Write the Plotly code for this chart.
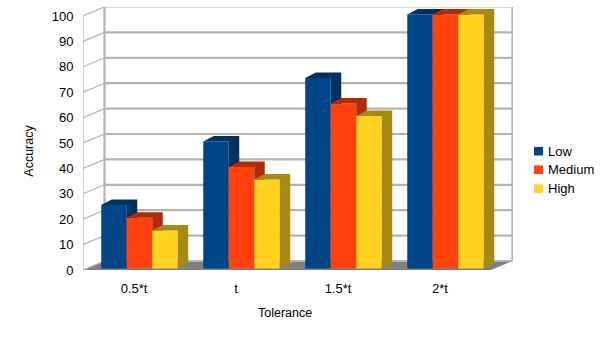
import plotly.graph_objects as go

categories = ["0.5*t", "t", "1.5*t", "2*t"]
low = [25, 50, 75, 100]
medium = [20, 40, 65, 100]
high = [15, 35, 60, 100]
value_ticks = list(range(0, 101, 10))

W, H = 605, 340
L, R, T, B = 83, 513, 7.3, 270.3
PX_X = 102.0      # pixels per category
PX_Y = 2.54       # pixels per accuracy unit
WALL_DX, WALL_DY = 21.5 / PX_X, 9 / PX_Y
BAR_DX, BAR_DY = 10.5 / PX_X, 5.5 / PX_Y
BAR_W = 25.5 / PX_X
BAR_SHIFT, BAR_BASE = 5.5 / PX_X, 0.6
GRID = "#b3b3b3"
FONT = "Liberation Sans, Arial, sans-serif"

series = [
    ("Low", low, "#004586", "#003160"),
    ("Medium", medium, "#ff420e", "#ad2d0a"),
    ("High", high, "#ffd320", "#a68a15"),
]
cat_x = list(range(len(categories)))
x_range = [-0.5, -0.5 + (R - L) / PX_X]
y_range = [0, (B - T) / PX_Y]


def px(x):
    return (x - L) / (R - L)


def py(y):
    return 1 - (y - T) / (B - T)


fig = go.Figure()

for i, (name, vals, color, dark) in enumerate(series):
    sfx = "" if i == 0 else str(i + 1)
    xa, ya = "x" + sfx, "y" + sfx
    xs = [c + BAR_SHIFT + (i - 1) * BAR_W for c in cat_x]
    fig.add_trace(go.Bar(
        x=xs, y=vals, base=[BAR_BASE] * len(vals), width=BAR_W, name=name,
        marker=dict(color=color, line=dict(width=0)), showlegend=False,
        xaxis=xa, yaxis=ya,
    ))
    side_x, side_y, top_x, top_y = [], [], [], []
    for xc, v in zip(xs, vals):
        xl, xr = xc - BAR_W / 2, xc + BAR_W / 2
        y0, y1 = BAR_BASE, BAR_BASE + v
        side_x += [xr, xr + BAR_DX, xr + BAR_DX, xr, xr, None]
        side_y += [y0, y0 + BAR_DY, y1 + BAR_DY, y1, y0, None]
        top_x += [xl, xl + BAR_DX, xr + BAR_DX, xr, xl, None]
        top_y += [y1, y1 + BAR_DY, y1 + BAR_DY, y1, y1, None]
    fig.add_trace(go.Scatter(
        x=side_x + top_x, y=side_y + top_y, mode="lines", fill="toself",
        fillcolor=dark, line=dict(width=0), hoverinfo="skip",
        showlegend=False, xaxis=xa, yaxis=ya,
    ))

shapes = []
x0, x1 = x_range[0], x_range[0] + len(categories)

# floor
shapes.append(dict(
    type="path", xref="x", yref="y", layer="below", line=dict(width=0),
    fillcolor="#808080",
    path=f"M{x0},0 L{x0 + WALL_DX},{WALL_DY} L{x1 + WALL_DX},{WALL_DY} L{x1},0 Z",
))
# back wall grid and left wall diagonals
for v in value_ticks:
    w = 1.2 if v == value_ticks[-1] else 2.2
    shapes.append(dict(type="line", xref="x", yref="y", layer="below",
                       x0=x0 + WALL_DX, x1=x1 + WALL_DX, y0=v + WALL_DY, y1=v + WALL_DY,
                       line=dict(color=GRID, width=w)))
    shapes.append(dict(type="line", xref="x", yref="y", layer="below",
                       x0=x0, x1=x0 + WALL_DX, y0=v, y1=v + WALL_DY,
                       line=dict(color=GRID, width=1.2)))
# wall verticals
top_v = value_ticks[-1]
shapes.append(dict(type="line", xref="x", yref="y", layer="below",
                   x0=x0 + WALL_DX, x1=x0 + WALL_DX, y0=WALL_DY, y1=top_v + WALL_DY,
                   line=dict(color=GRID, width=2.2)))
shapes.append(dict(type="line", xref="x", yref="y", layer="below",
                   x0=x1 + WALL_DX, x1=x1 + WALL_DX, y0=WALL_DY, y1=top_v + WALL_DY,
                   line=dict(color=GRID, width=2.2)))
shapes.append(dict(type="line", xref="x", yref="y", layer="below",
                   x0=x0, x1=x0, y0=0, y1=top_v,
                   line=dict(color=GRID, width=1.2)))

# legend
annotations = []
legend_y = [151.5, 170, 189]
for (name, vals, color, dark), ly in zip(series, legend_y):
    shapes.append(dict(type="rect", xref="paper", yref="paper",
                       x0=px(534), x1=px(543), y0=py(ly + 4.3), y1=py(ly - 4.3),
                       fillcolor=color, line=dict(width=0)))
    annotations.append(dict(text=name, xref="paper", yref="paper", x=px(546), y=py(ly),
                            xanchor="left", yanchor="middle", showarrow=False,
                            font=dict(family=FONT, size=13, color="#000000")))
annotations.append(dict(text="Tolerance", xref="paper", yref="paper", x=px(284.5), y=py(313.5),
                        xanchor="center", yanchor="middle", showarrow=False,
                        font=dict(family=FONT, size=12.5, color="#000000")))
annotations.append(dict(text="Accuracy", xref="paper", yref="paper", x=px(29), y=py(151),
                        xanchor="center", yanchor="middle", showarrow=False, textangle=-90,
                        font=dict(family=FONT, size=12.5, color="#000000")))

fig.update_layout(
    width=W, height=H, autosize=False,
    margin=dict(l=L, r=W - R, t=T, b=H - B, pad=0),
    paper_bgcolor="white", plot_bgcolor="white",
    barmode="overlay", showlegend=False, shapes=shapes, annotations=annotations,
    font=dict(family=FONT, size=13, color="#000000"),
    xaxis=dict(range=x_range, tickmode="array", tickvals=cat_x, ticktext=categories,
               showgrid=False, zeroline=False, showline=False,
               ticks="outside", ticklen=6, tickcolor="rgba(0,0,0,0)",
               tickfont=dict(family=FONT, size=13, color="#000000")),
    yaxis=dict(range=y_range, tickmode="array", tickvals=value_ticks,
               ticktext=[str(v) for v in value_ticks],
               showgrid=False, zeroline=False, showline=False,
               ticks="outside", ticklen=6, tickcolor="rgba(0,0,0,0)",
               tickfont=dict(family=FONT, size=13, color="#000000")),
)
for n in (2, 3):
    fig.update_layout({
        f"xaxis{n}": dict(range=x_range, overlaying="x", visible=False),
        f"yaxis{n}": dict(range=y_range, overlaying="y", visible=False),
    })

fig.write_html("out.html", config=dict(displayModeBar=False),
               post_script="document.body.style.margin='0';document.body.style.overflow='hidden';")
